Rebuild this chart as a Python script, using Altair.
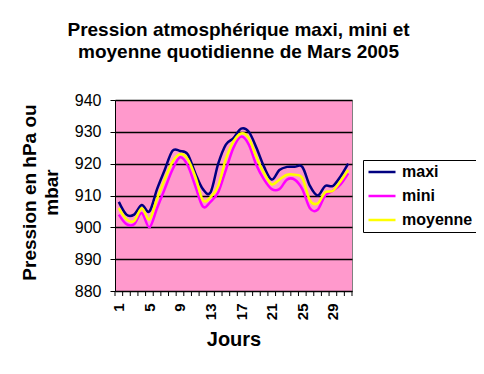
import altair as alt
import pandas as pd

days = list(range(1, 32))
maxi = [908, 904, 904, 907, 905, 912, 918, 924, 924, 923, 917, 912, 911, 920, 926, 928,
        931, 930, 925, 919, 915, 918, 919, 919, 919, 913, 910, 913, 913, 916, 920]
mini = [904, 901, 901, 904.5, 900, 906, 912, 918, 922, 919.5, 913, 906.5, 908, 911, 918, 925,
        928.5, 926, 919.5, 915, 912, 912, 915, 915, 912, 906, 905.5, 910, 911.5, 913.5, 917]
moyenne = [906, 902.5, 902, 906, 902.5, 909, 915, 920.5, 923, 921.5, 916, 908.5, 909.5, 913, 921.5, 927,
           929.5, 928, 922, 917, 913.5, 915, 916.5, 916.5, 915.5, 908.5, 907.5, 911, 911.5, 914.5, 918]
series = ["maxi", "mini", "moyenne"]
colors = ["#000080", "#FF00FF", "#FFFF00"]
y_ticks = [880, 890, 900, 910, 920, 930, 940]
x_labels = [1, 5, 9, 13, 17, 21, 25, 29]
x_ticks = [d - 0.5 for d in days] + [31.5]

rows = []
for name, vals in zip(series, [maxi, mini, moyenne]):
    for d, v in zip(days, vals):
        rows.append({"Jour": d, "Pression": v, "Série": name, "ordre": series.index(name)})
df = pd.DataFrame(rows)

FONT = "Liberation Sans"
xscale = alt.Scale(domain=[0.5, 31.5], nice=False, zero=False)
yscale = alt.Scale(domain=[880, 940], nice=False, zero=False)

x_axis = alt.Axis(values=x_labels, ticks=False, domain=False, grid=False,
                  labelAngle=270, labelAlign="right", labelBaseline="middle",
                  labelFont=FONT, labelFontSize=15, labelFontWeight="bold",
                  labelColor="black", labelPadding=12,
                  title="Jours", titleFont=FONT, titleFontSize=20,
                  titleFontWeight="bold", titleColor="black", titlePadding=10)

lines = alt.Chart(df).mark_line(interpolate="cardinal", strokeWidth=2.5).encode(
    x=alt.X("Jour:Q", scale=xscale, axis=x_axis),
    y=alt.Y("Pression:Q", scale=yscale,
            axis=alt.Axis(values=y_ticks, grid=True, gridColor="black", gridWidth=1.5,
                          domainColor="black", tickColor="black", tickSize=5,
                          labelFont=FONT, labelFontSize=16, labelFontWeight="normal",
                          labelColor="black", labelPadding=9,
                          title=["Pression en hPa ou", "mbar"], titleFont=FONT,
                          titleFontSize=19, titleFontWeight="bold", titleColor="black",
                          titleAngle=270, titleAlign="center", titleBaseline="alphabetic",
                          titleX=-80, titleY=92, titleLineHeight=22)),
    color=alt.Color("Série:N", scale=alt.Scale(domain=series, range=colors),
                    legend=alt.Legend(title=None, orient="none", legendX=248, legendY=60,
                                      symbolType="M-1,0H1", symbolSize=729,
                                      symbolStrokeWidth=2.5, labelFont=FONT,
                                      labelFontSize=16, labelFontWeight="bold",
                                      labelColor="black", labelOffset=5, rowPadding=8,
                                      clipHeight=16,
                                      strokeColor="black", fillColor="white",
                                      padding=4)),
    order="ordre:Q",
)

xticks_df = pd.DataFrame({"Jour": x_ticks})
ticks = alt.Chart(xticks_df).mark_rule(color="black", strokeWidth=1).encode(
    x=alt.X("Jour:Q", scale=xscale, axis=x_axis),
    y=alt.value(191), y2=alt.value(196),
)

chart = alt.layer(lines, ticks).properties(
    width=237, height=191,
    background="white",
    title=alt.TitleParams(["Pression atmosphérique maxi, mini et",
                           "moyenne quotidienne de Mars 2005"],
                          font=FONT, fontSize=19, fontWeight="bold", color="black",
                          anchor="middle", dx=5, offset=30, lineHeight=22),
    autosize=alt.AutoSizeParams(type="none"),
    padding={"left": 107, "top": 92, "right": 124, "bottom": 75},
).configure_view(fill="#FF99CC", stroke="#808080", strokeWidth=1)

chart.save("out.html", embed_options={"renderer": "svg", "actions": False})
